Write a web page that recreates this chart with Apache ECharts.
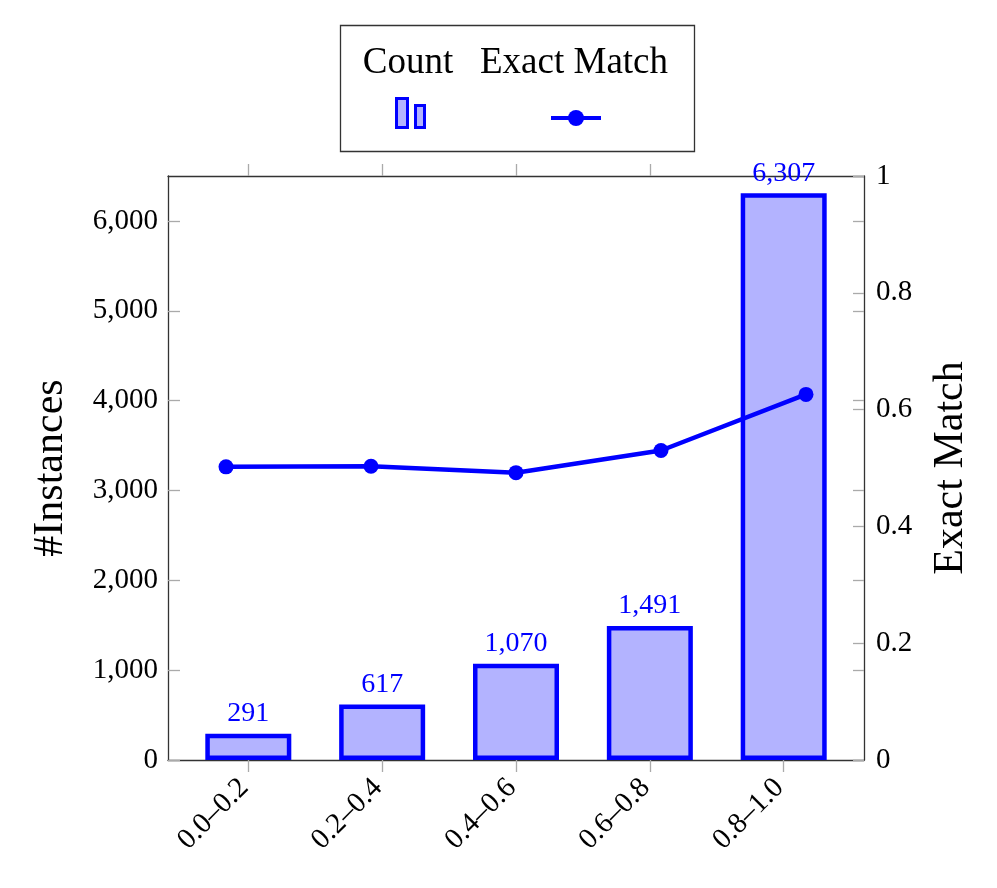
<!DOCTYPE html>
<html>
<head>
<meta charset="utf-8">
<script src="https://cdn.jsdelivr.net/npm/echarts@6/dist/echarts.min.js"></script>
<style>
  html, body { margin: 0; padding: 0; background: #fff; }
  #chart { width: 997px; height: 888px; }
</style>
</head>
<body>
<div id="chart"></div>
<script>
const categories = ['0.0–0.2', '0.2–0.4', '0.4–0.6', '0.6–0.8', '0.8–1.0'];
const counts = [291, 617, 1070, 1491, 6307];
const exactMatch = [0.502, 0.503, 0.492, 0.530, 0.626];
const barPositions = [0, 1, 2, 3, 4];

const FONT = '"Liberation Serif", "DejaVu Serif", serif';
const BLUE = '#0000ff';
const FILL = '#b3b3ff';
const TICK = '#aaaaaa';
const LINE = '#333333';

const chart = echarts.init(document.getElementById('chart'));

chart.setOption({
  animation: false,
  backgroundColor: '#fff',
  grid: { left: 168, top: 176, width: 696, height: 584 },
  legend: [
    {
      data: ['Count'],
      left: 395, top: 97, padding: 0,
      itemWidth: 28, itemHeight: 29,
      icon: 'path://M0,0 H11 V29 H0 Z M19,7 H28 V29 H19 Z',
      itemStyle: { borderWidth: 3 },
      formatter: () => ''
    },
    {
      data: ['Exact Match'],
      left: 549, top: 108, padding: 0,
      itemWidth: 50, itemHeight: 20,
      lineStyle: { width: 4 },
      formatter: () => ''
    }
  ],
  graphic: [
    {
      type: 'rect',
      shape: { x: 340.5, y: 25.5, width: 354, height: 126 },
      style: { fill: 'none', stroke: LINE, lineWidth: 1.3 }
    },
    {
      type: 'text', x: 408, y: 63,
      style: { text: 'Count', font: '37px ' + FONT, fill: '#000', align: 'center', verticalAlign: 'middle' }
    },
    {
      type: 'text', x: 574, y: 63,
      style: { text: 'Exact Match', font: '37px ' + FONT, fill: '#000', align: 'center', verticalAlign: 'middle' }
    }
  ],
  xAxis: [
    {
      type: 'value', position: 'bottom', min: -0.6, max: 4.6,
      axisLine: { onZero: false, lineStyle: { color: LINE, width: 1.3 } },
      axisTick: { show: true, customValues: barPositions, inside: false, length: 12, lineStyle: { color: TICK, width: 1.3 } },
      axisLabel: {
        customValues: barPositions, rotate: 45, margin: 19, padding: [0, 6, 0, 0],
        formatter: v => categories[Math.round(v)],
        fontFamily: FONT, fontSize: 29, color: '#000'
      },
      splitLine: { show: false }
    },
    {
      type: 'value', min: -0.4, max: 4.4, show: false,
      axisLine: { onZero: false }
    },
    {
      type: 'value', position: 'top', min: -0.6, max: 4.6,
      axisLine: { onZero: false, lineStyle: { color: LINE, width: 1.3 } },
      axisTick: { show: true, customValues: barPositions, inside: false, length: 12, lineStyle: { color: TICK, width: 1.3 } },
      axisLabel: { show: false },
      splitLine: { show: false }
    }
  ],
  yAxis: [
    {
      type: 'value', position: 'left', min: 0, max: 6500, interval: 1000,
      name: '#Instances', nameLocation: 'middle', nameGap: 96,
      nameTextStyle: { fontFamily: FONT, fontSize: 42, color: '#000' },
      axisLine: { show: true, onZero: false, lineStyle: { color: LINE, width: 1.3 } },
      axisTick: { show: true, inside: true, length: 12, lineStyle: { color: TICK, width: 1.3 } },
      axisLabel: {
        margin: 10, showMaxLabel: false,
        formatter: v => v.toLocaleString('en-US'),
        fontFamily: FONT, fontSize: 29, color: '#000'
      },
      splitLine: { show: false }
    },
    {
      type: 'value', position: 'right', min: 0, max: 1, interval: 0.2,
      name: 'Exact Match', nameLocation: 'middle', nameGap: 66,
      nameTextStyle: { fontFamily: FONT, fontSize: 42, color: '#000' },
      axisLine: { show: true, onZero: false, lineStyle: { color: LINE, width: 1.3 } },
      axisTick: { show: true, inside: true, length: 11, lineStyle: { color: TICK, width: 1.3 } },
      axisLabel: { margin: 12, fontFamily: FONT, fontSize: 29, color: '#000' },
      splitLine: { show: false }
    },
    {
      type: 'value', position: 'right', min: 0, max: 6500, interval: 1000,
      axisLine: { show: false, onZero: false },
      axisTick: { show: true, inside: true, length: 11, lineStyle: { color: TICK, width: 1.3 } },
      axisLabel: { show: false },
      splitLine: { show: false }
    }
  ],
  series: [
    {
      name: 'Count',
      type: 'bar',
      xAxisIndex: 0, yAxisIndex: 0,
      barWidth: 86,
      data: counts.map((c, i) => [barPositions[i], c]),
      itemStyle: { color: FILL, borderColor: BLUE, borderWidth: 4.5 },
      label: {
        show: true, position: 'top', distance: 6,
        formatter: p => p.value[1].toLocaleString('en-US'),
        fontFamily: FONT, fontSize: 28, color: BLUE
      }
    },
    {
      name: 'Exact Match',
      type: 'line',
      xAxisIndex: 1, yAxisIndex: 1,
      data: exactMatch.map((v, i) => [barPositions[i], v]),
      symbol: 'circle', symbolSize: 15,
      lineStyle: { color: BLUE, width: 4.5 },
      itemStyle: { color: BLUE },
      z: 5
    }
  ]
});
</script>
</body>
</html>
